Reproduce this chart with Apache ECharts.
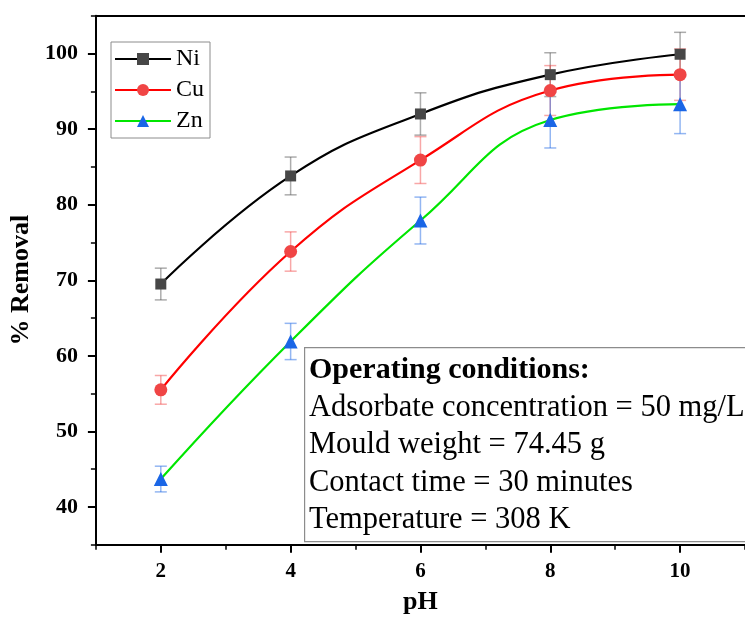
<!DOCTYPE html>
<html>
<head>
<meta charset="utf-8">
<script src="https://cdn.jsdelivr.net/npm/echarts@6/dist/echarts.min.js"></script>
<style>html,body{margin:0;padding:0;background:#fff;}#c{width:745px;height:628px;}</style>
</head>
<body>
<div id="c"></div>
<script>
var phValues = [2, 4, 6, 8, 10];
var niValues = [69.5, 83.8, 92.0, 97.2, 99.9];
var cuValues = [55.5, 73.8, 85.9, 95.1, 97.2];
var znValues = [43.7, 61.9, 77.9, 91.2, 93.3];
var niErr = [2.1, 2.5, 2.8, 2.9, 2.9];
var cuErr = [1.9, 2.6, 3.1, 3.3, 3.4];
var znErr = [1.7, 2.4, 3.1, 3.7, 3.9];
var xMajorTicks = [2, 4, 6, 8, 10];
var xMinorTicks = [1, 3, 5, 7, 9, 11];
var yMajorTicks = [40, 50, 60, 70, 80, 90, 100];
var yMinorTicks = [35, 45, 55, 65, 75, 85, 95, 105];
var seriesNames = ['Ni', 'Cu', 'Zn'];
var conditionTitle = 'Operating conditions:';
var conditionLines = ['Adsorbate concentration = 50 mg/L', 'Mould weight = 74.45 g', 'Contact time = 30 minutes', 'Temperature = 308 K'];

var FONT = '"Liberation Serif", "Times New Roman", serif';

function pts(vals) { return phValues.map(function (x, i) { return [x, vals[i]]; }); }
function errPts(vals, errs) { return phValues.map(function (x, i) { return [x, vals[i] - errs[i], vals[i] + errs[i]]; }); }

function errSeries(vals, errs, color) {
  return {
    type: 'custom',
    xAxisIndex: 0, yAxisIndex: 0,
    data: errPts(vals, errs),
    z: 1,
    silent: true,
    renderItem: function (params, api) {
      var lo = api.coord([api.value(0), api.value(1)]);
      var hi = api.coord([api.value(0), api.value(2)]);
      var hw = 6;
      var st = { stroke: color, lineWidth: 1.5 };
      return {
        type: 'group',
        children: [
          { type: 'line', shape: { x1: lo[0], y1: lo[1], x2: hi[0], y2: hi[1] }, style: st },
          { type: 'line', shape: { x1: lo[0] - hw, y1: lo[1], x2: lo[0] + hw, y2: lo[1] }, style: st },
          { type: 'line', shape: { x1: hi[0] - hw, y1: hi[1], x2: hi[0] + hw, y2: hi[1] }, style: st }
        ]
      };
    }
  };
}

function lineSeries(name, vals, lineColor, markColor, symbol, size) {
  return {
    name: name, type: 'line', xAxisIndex: 0, yAxisIndex: 0,
    data: pts(vals), smooth: 0.45, z: 3,
    symbol: symbol, symbolSize: size,
    lineStyle: { color: lineColor, width: 2.2 },
    itemStyle: { color: markColor, borderWidth: 0 },
    color: lineColor
  };
}

var chart = echarts.init(document.getElementById('c'), null, { renderer: 'canvas' });
var textEls = [{
  type: 'rect', left: 304, top: 347, z: 100,
  shape: { width: 470, height: 194 },
  style: { fill: '#fff', stroke: '#8c8c8c', lineWidth: 1.2 }
}, {
  type: 'text', left: 309, top: 355, z: 101,
  style: { text: conditionTitle, font: 'bold 30px ' + FONT, fill: '#000' }
}];
conditionLines.forEach(function (t, i) {
  textEls.push({ type: 'text', left: 309, top: 392 + i * 37.5, z: 101,
    style: { text: t, font: '30.5px ' + FONT, fill: '#000' } });
});

chart.setOption({
  backgroundColor: '#fff',
  animation: false,
  grid: { left: 94, top: 15.7, width: 654, height: 529.1, containLabel: false },
  legend: {
    orient: 'vertical', left: 111, top: 42,
    data: seriesNames,
    itemWidth: 56, itemHeight: 15, itemGap: 7,
    padding: [5, 6, 5, 3],
    borderColor: '#8c8c8c', borderWidth: 1,
    textStyle: { fontFamily: FONT, fontSize: 24, color: '#000', lineHeight: 23 }
  },
  xAxis: [{
    type: 'value', min: 1, max: 11, position: 'bottom',
    axisLine: { show: true, lineStyle: { color: '#000', width: 2 } },
    axisTick: { show: true, customValues: xMajorTicks, length: 8, inside: false, lineStyle: { color: '#000', width: 2 } },
    axisLabel: { customValues: xMajorTicks, margin: 16, fontFamily: FONT, fontWeight: 'bold', fontSize: 21, color: '#000' },
    splitLine: { show: false },
    name: 'pH', nameLocation: 'middle', nameGap: 44,
    nameTextStyle: { fontFamily: FONT, fontWeight: 'bold', fontSize: 26, color: '#000' }
  }, {
    type: 'value', min: 1, max: 11, position: 'bottom',
    axisLine: { show: false },
    axisTick: { show: true, customValues: xMinorTicks, length: 5, lineStyle: { color: '#000', width: 1.5 } },
    axisLabel: { show: false },
    splitLine: { show: false }
  }, {
    type: 'value', min: 1, max: 11, position: 'top',
    axisLine: { show: true, lineStyle: { color: '#000', width: 2 } },
    axisTick: { show: false }, axisLabel: { show: false }, splitLine: { show: false }
  }],
  yAxis: [{
    type: 'value', min: 35, max: 105, position: 'left',
    axisLine: { show: true, lineStyle: { color: '#000', width: 2 } },
    axisTick: { show: true, customValues: yMajorTicks, length: 8, lineStyle: { color: '#000', width: 2 } },
    axisLabel: { customValues: yMajorTicks, margin: 18, fontFamily: FONT, fontWeight: 'bold', fontSize: 22, color: '#000' },
    splitLine: { show: false },
    name: '% Removal', nameLocation: 'middle', nameGap: 52, nameRotate: 90,
    nameTextStyle: { fontFamily: FONT, fontWeight: 'bold', fontSize: 26, color: '#000' }
  }, {
    type: 'value', min: 35, max: 105, position: 'left',
    axisLine: { show: false },
    axisTick: { show: true, customValues: yMinorTicks, length: 5, lineStyle: { color: '#000', width: 1.5 } },
    axisLabel: { show: false },
    splitLine: { show: false }
  }],
  series: [
    errSeries(niValues, niErr, 'rgba(90,90,90,0.5)'),
    errSeries(cuValues, cuErr, 'rgba(240,60,60,0.45)'),
    errSeries(znValues, znErr, 'rgba(40,110,230,0.5)'),
    lineSeries('Ni', niValues, '#000000', '#474747', 'rect', 11),
    lineSeries('Cu', cuValues, '#ff0000', '#f04545', 'circle', 13),
    lineSeries('Zn', znValues, '#00e600', '#1a66e6', 'triangle', 14)
  ],
  graphic: textEls
});
</script>
</body>
</html>
